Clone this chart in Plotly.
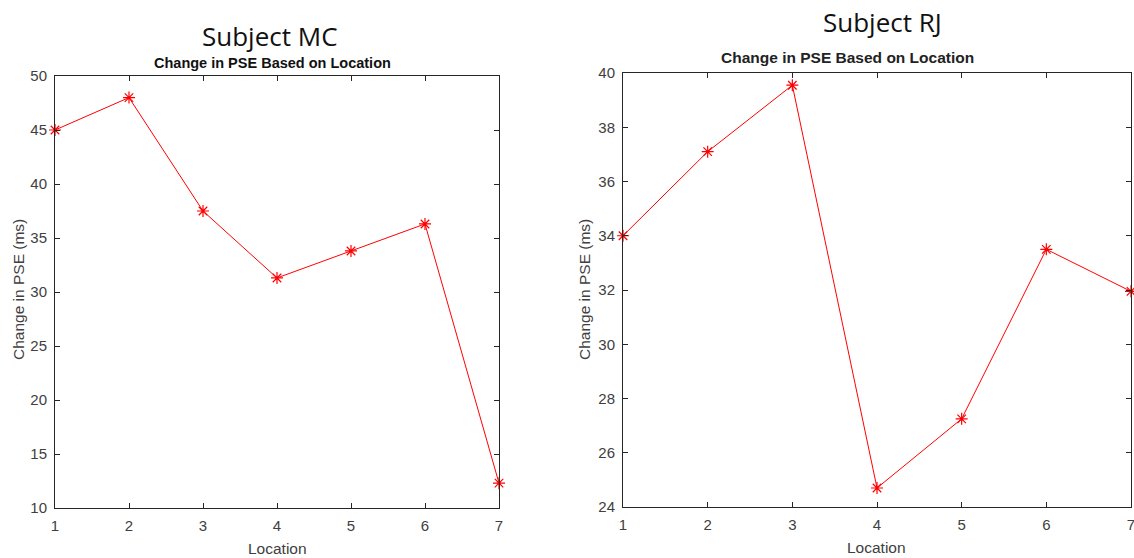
import plotly.graph_objects as go

locations = [1, 2, 3, 4, 5, 6, 7]
mc_values = [45.0, 48.0, 37.5, 31.3, 33.8, 36.3, 12.3]
rj_values = [34.0, 37.1, 39.55, 24.7, 27.25, 33.5, 31.95]
mc_yticks = [10, 15, 20, 25, 30, 35, 40, 45, 50]
rj_yticks = [24, 26, 28, 30, 32, 34, 36, 38, 40]
subject_titles = ["Subject MC", "Subject RJ"]
subtitle = "Change in PSE Based on Location"
x_title = "Location"
y_title = "Change in PSE (ms)"

W, H = 1134, 558
def px(x):
    return x / W
def py(y):
    return 1 - y / H

fig = go.Figure()
for vals, xa, ya in [(mc_values, "x", "y"), (rj_values, "x2", "y2")]:
    fig.add_trace(go.Scatter(
        x=locations, y=vals, xaxis=xa, yaxis=ya, mode="lines+markers",
        line=dict(color="#ff0000", width=1),
        marker=dict(symbol="asterisk-open", size=10,
                    line=dict(color="#ff0000", width=1.2), color="#ff0000"),
        showlegend=False, cliponaxis=False))

axis_common = dict(showgrid=False, zeroline=False, showline=True, linecolor="#262626",
                   linewidth=1, mirror="ticks", ticks="inside", ticklen=5,
                   tickcolor="#262626", automargin=False, ticklabeloverflow="allow",
                   ticklabelstandoff=4,
                   tickfont=dict(family="Liberation Sans, Arial", size=15, color="#404040"))

fig.update_layout(
    width=W, height=H, margin=dict(l=0, r=0, t=0, b=0),
    paper_bgcolor="white", plot_bgcolor="white",
    xaxis=dict(domain=[px(55), px(499)], range=[1, 7], tickvals=locations, anchor="y", **axis_common),
    yaxis=dict(domain=[py(508), py(76)], range=[10, 50], tickvals=mc_yticks, anchor="x", **axis_common),
    xaxis2=dict(domain=[px(623), px(1131)], range=[1, 7], tickvals=locations, anchor="y2", **axis_common),
    yaxis2=dict(domain=[py(507), py(73)], range=[24, 40], tickvals=rj_yticks, anchor="x2", **axis_common),
)

ann = []
ann.append(dict(x=px(270), y=py(36), text=subject_titles[0], font=dict(family="Open Sans", size=26, color="#111")))
ann.append(dict(x=px(882), y=py(22), text=subject_titles[1], font=dict(family="Open Sans", size=26, color="#111")))
ann.append(dict(x=px(272), y=py(63), text="<b>" + subtitle + "</b>", font=dict(family="Liberation Sans, Arial", size=14.5, color="#111")))
ann.append(dict(x=px(847), y=py(57), text="<b>" + subtitle + "</b>", font=dict(family="Liberation Sans, Arial", size=15.5, color="#222")))
ann.append(dict(x=px(277), y=py(548), text=x_title, font=dict(family="Liberation Sans, Arial", size=15.5, color="#404040")))
ann.append(dict(x=px(876), y=py(547), text=x_title, font=dict(family="Liberation Sans, Arial", size=15.5, color="#404040")))
ann.append(dict(x=px(18), y=py(290), text=y_title, textangle=-90, font=dict(family="Liberation Sans, Arial", size=15.5, color="#404040")))
ann.append(dict(x=px(584), y=py(290), text=y_title, textangle=-90, font=dict(family="Liberation Sans, Arial", size=15.5, color="#404040")))
for a in ann:
    a.update(xref="paper", yref="paper", showarrow=False, xanchor="center", yanchor="middle")
fig.update_layout(annotations=ann)

fig.write_html("out.html")
